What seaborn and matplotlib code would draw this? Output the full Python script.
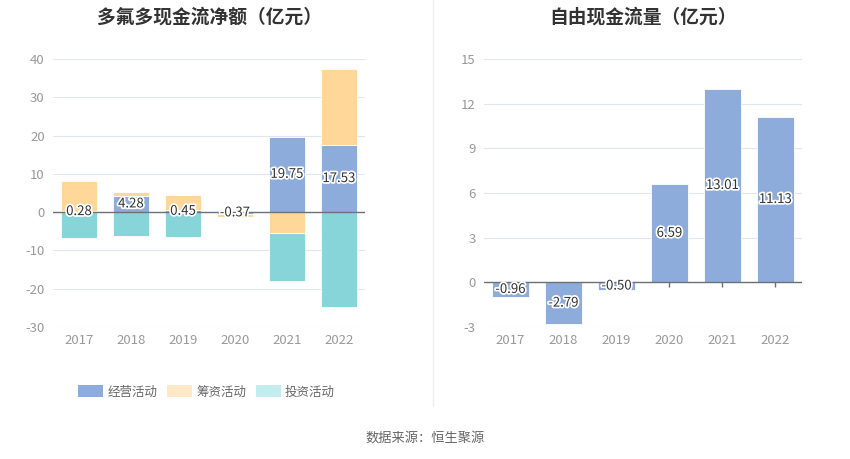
import matplotlib
matplotlib.use("Agg")
import matplotlib.pyplot as plt
import matplotlib.patheffects as pe
from matplotlib.lines import Line2D
from matplotlib.patches import Patch
import numpy as np
import pandas as pd
import seaborn as sns

years = ["2017", "2018", "2019", "2020", "2021", "2022"]
operating = [0.28, 4.28, 0.45, -0.37, 19.75, 17.53]
financing = [7.85, 1.0, 4.0, -0.85, -5.5, 19.9]
investing = [-6.8, -6.2, -6.5, 0.12, -12.4, -24.7]
free_cf = [-0.96, -2.79, -0.50, 6.59, 13.01, 11.13]

series_names = ["经营活动", "筹资活动", "投资活动"]
bar_colors = ["#8dacdb", "#ffd899", "#87d5d9"]
legend_colors = ["#8dacdb", "#ffe8c7", "#c2eced"]

sns.set_theme(style="white")
plt.rcParams["font.family"] = ["Noto Sans CJK SC", "DejaVu Sans"]
plt.rcParams["axes.unicode_minus"] = False

fig = plt.figure(figsize=(8.5, 4.59), dpi=100)
ax1 = fig.add_axes([0.0624, 0.2876, 0.367, 0.5839])
ax2 = fig.add_axes([0.5694, 0.2876, 0.3741, 0.5839])

grid_c = "#e0e6f1"
tick_c = "#999999"
title_c = "#333333"
halo = [pe.withStroke(linewidth=2.5, foreground="white")]

# ---------- left: stacked cash flows ----------
df = pd.DataFrame({"year": years, series_names[0]: operating,
                   series_names[1]: financing, series_names[2]: investing})
x = np.arange(len(years))
pos_base = np.zeros(len(years))
neg_base = np.zeros(len(years))
for name, col in zip(series_names, bar_colors):
    vals = df[name].to_numpy()
    bottoms = np.where(vals >= 0, pos_base, neg_base)
    ax1.bar(x, vals, width=0.69, bottom=bottoms, color=col,
            edgecolor="white", linewidth=0.6, zorder=2)
    pos_base = pos_base + np.where(vals >= 0, vals, 0)
    neg_base = neg_base + np.where(vals < 0, vals, 0)

for xi, v in zip(x, operating):
    ax1.text(xi, v / 2, f"{v:.2f}", ha="center", va="center", fontsize=9.5,
             color="#333333", path_effects=halo, zorder=5)

ax1.set_ylim(-30, 40)
ax1.set_yticks(range(-30, 41, 10))
ax1.set_xlim(-0.5, 5.5)
ax1.set_xticks(x)
ax1.set_xticklabels(years)
ax1.axhline(0, color="#6e7079", linewidth=1, zorder=3)
ax1.set_title("多氟多现金流净额（亿元）", fontsize=13.5, fontweight="bold",
              color=title_c, pad=26)

# ---------- right: free cash flow ----------
df2 = pd.DataFrame({"year": years, "free": free_cf})
sns.barplot(data=df2, x="year", y="free", ax=ax2, color=bar_colors[0],
            saturation=1, width=0.7, edgecolor="white", linewidth=0.6, zorder=2)
ax2.vlines(np.arange(len(years)), 0, -0.3, color="#6e7079", linewidth=1, zorder=1)
for xi, v in enumerate(free_cf):
    ax2.text(xi, v / 2, f"{v:.2f}", ha="center", va="center", fontsize=9.5,
             color="#333333", path_effects=halo, zorder=5)
ax2.set_ylim(-3, 15)
ax2.set_yticks(range(-3, 16, 3))
ax2.set_xlim(-0.5, 5.5)
ax2.axhline(0, color="#6e7079", linewidth=1, zorder=3)
ax2.set_xlabel("")
ax2.set_ylabel("")
ax2.set_title("自由现金流量（亿元）", fontsize=13.5, fontweight="bold",
              color=title_c, pad=26)

for ax in (ax1, ax2):
    for s in ax.spines.values():
        s.set_visible(False)
    ax.grid(axis="y", color=grid_c, linewidth=0.8, zorder=0)
    ax.set_axisbelow(True)
    ax.tick_params(axis="both", length=0, labelsize=9.5, colors=tick_c)
    ax.tick_params(axis="x", pad=5)
    ax.tick_params(axis="y", pad=6)

# legend
handles = [Patch(facecolor=c, edgecolor="none") for c in legend_colors]
leg = fig.legend(handles, series_names, loc="center", bbox_to_anchor=(0.243, 0.146),
                 ncol=3, frameon=False, fontsize=9, handlelength=2.0,
                 handleheight=1.1, handletextpad=0.35, columnspacing=0.75)
for t in leg.get_texts():
    t.set_color("#666666")

# divider
fig.add_artist(Line2D([0.509, 0.509], [0.115, 1.0], color="#eeeeee", linewidth=1))

fig.text(0.5, 0.045, "数据来源：恒生聚源", ha="center", va="center",
         fontsize=9.5, color="#666666")

fig.savefig("out.png", dpi=100)
